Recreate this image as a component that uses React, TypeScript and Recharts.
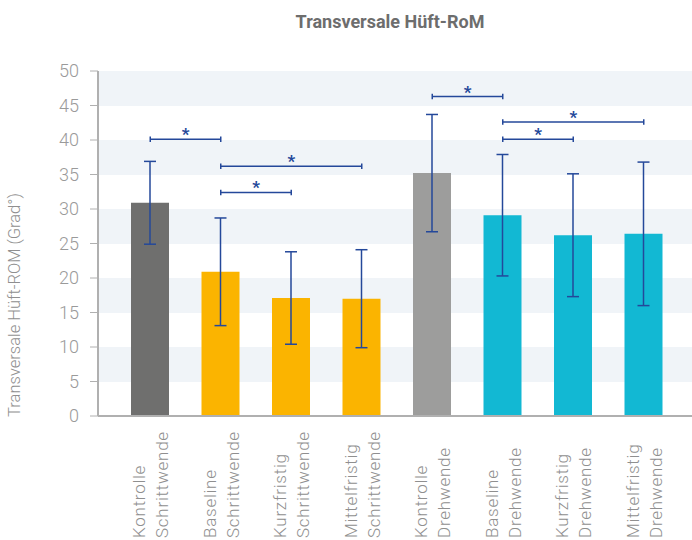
import { BarChart, Bar, XAxis, YAxis, Cell, ErrorBar, CartesianGrid, ReferenceLine } from "recharts";

const labelTop = ["Kontrolle", "Baseline", "Kurzfristig", "Mittelfristig", "Kontrolle", "Baseline", "Kurzfristig", "Mittelfristig"];
const labelBottom = ["Schrittwende", "Schrittwende", "Schrittwende", "Schrittwende", "Drehwende", "Drehwende", "Drehwende", "Drehwende"];
const means = [30.9, 20.9, 17.1, 17.0, 35.2, 29.1, 26.2, 26.4];
const sds = [6.0, 7.8, 6.7, 7.1, 8.5, 8.8, 8.9, 10.4];
const barColors = ["#6f6f6e", "#fbb400", "#fbb400", "#fbb400", "#9d9d9c", "#12b8d3", "#12b8d3", "#12b8d3"];

const yTicks = [0, 5, 10, 15, 20, 25, 30, 35, 40, 45, 50];

// significance brackets: from bar, to bar, height
const sigFrom = [0, 1, 1, 4, 5, 5];
const sigTo = [1, 3, 2, 5, 7, 6];
const sigLevel = [40.1, 36.2, 32.4, 46.3, 42.6, 40.1];

const FONT = "Roboto, 'DejaVu Sans', sans-serif";
const BLUE = "#24489a";
const TEXT = "#8f8f8f";

const data = labelTop.map((t, i) => ({
  key: `${t} ${labelBottom[i]}`,
  mean: means[i],
  sd: sds[i],
}));

function CategoryTick(props: any) {
  const { x, y, index } = props;
  // labels are bottom-aligned near the lower edge of the image
  const start = -(538 - y);
  return (
    <g transform={`translate(${x},${y})`}>
      <text
        transform="rotate(-90)"
        textAnchor="start"
        fill={TEXT}
        fontSize={17}
        fontWeight={300}
        letterSpacing={0.75}
        fontFamily={FONT}
      >
        <tspan x={start} y={-5}>{labelTop[index]}</tspan>
        <tspan x={start} y={18}>{labelBottom[index]}</tspan>
      </text>
    </g>
  );
}

function Star(props: any) {
  const vb = props.viewBox;
  return (
    <text x={vb.x + vb.width / 2} y={vb.y + 1} textAnchor="middle" fill={BLUE} fontSize={17} fontWeight={700} fontFamily={FONT}>
      *
    </text>
  );
}

export default function App() {
  return (
    <div style={{ position: "absolute", left: 0, top: 0, width: 692, height: 540, background: "#fff" }}>
      <BarChart width={692} height={540} data={data} margin={{ top: 71, right: 0, left: 0, bottom: 0 }} barCategoryGap={0}>
        <text x={390} y={28} textAnchor="middle" fill="#6d6d6d" fontSize={18} fontWeight={700} fontFamily={FONT}>
          Transversale Hüft-RoM
        </text>
        <CartesianGrid
          vertical={false}
          horizontal={true}
          stroke="none"
          horizontalFill={["#f0f4f8", "#ffffff"]}
          fillOpacity={1}
        />
        <XAxis
          dataKey="key"
          height={124}
          interval={0}
          padding={{ left: 17, right: 13 }}
          tick={<CategoryTick />}
          tickLine={false}
          axisLine={{ stroke: "#b0b0b0", strokeWidth: 2 }}
        />
        <YAxis
          width={98}
          domain={[0, 50]}
          ticks={yTicks}
          interval={0}
          tickSize={8}
          tickMargin={11}
          tickLine={{ stroke: "#b0b0b0" }}
          axisLine={{ stroke: "#b0b0b0", strokeWidth: 2 }}
          tick={{ fill: "#9a9a9a", fontSize: 18, fontWeight: 300, fontFamily: FONT }}
          label={{
            value: "Transversale Hüft-ROM (Grad°)",
            content: () => (
              <text
                transform="translate(20, 305) rotate(-90)"
                textAnchor="middle"
                fill={TEXT}
                fontSize={16.5}
                fontWeight={300}
                fontFamily={FONT}
              >
                Transversale Hüft-ROM (Grad°)
              </text>
            ),
          }}
        />
        <Bar dataKey="mean" barSize={38} isAnimationActive={false}>
          {data.map((d, i) => (
            <Cell key={d.key} fill={barColors[i]} />
          ))}
          <ErrorBar dataKey="sd" width={6} stroke={BLUE} strokeWidth={1.5} isAnimationActive={false} />
        </Bar>
        {sigFrom.map((f, i) => {
          const a = data[f].key;
          const b = data[sigTo[i]].key;
          const lv = sigLevel[i];
          return [
            <ReferenceLine
              key={`s${i}`}
              segment={[{ x: a, y: lv }, { x: b, y: lv }]}
              stroke={BLUE}
              strokeWidth={1.5}
              label={<Star />}
            />,
            <ReferenceLine key={`a${i}`} segment={[{ x: a, y: lv - 0.4 }, { x: a, y: lv + 0.4 }]} stroke={BLUE} strokeWidth={1.5} />,
            <ReferenceLine key={`b${i}`} segment={[{ x: b, y: lv - 0.4 }, { x: b, y: lv + 0.4 }]} stroke={BLUE} strokeWidth={1.5} />,
          ];
        })}
      </BarChart>
    </div>
  );
}
